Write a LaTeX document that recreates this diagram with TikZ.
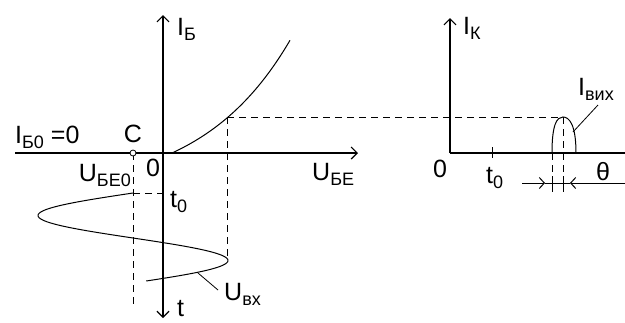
\documentclass[tikz,border=0pt]{standalone}
\usepackage{fontspec}
\setmainfont{Liberation Sans}
\usetikzlibrary{arrows.meta}
\newcommand{\lsub}[1]{\raisebox{-0.45ex}{\fontsize{18}{18}\selectfont #1}}

\begin{document}
\begin{tikzpicture}[x=1pt,y=-1pt,
    font=\fontsize{25}{25}\selectfont,
    axis/.style={line width=1.2pt,-{Straight Barb[length=6pt,width=12pt]}},
    guide/.style={line width=1pt,dash pattern=on 7pt off 5pt},
    curve/.style={line width=1pt},
    dimarrow/.style={line width=1pt,-{Straight Barb[length=5pt,width=11pt]}}]
    \useasboundingbox (0,0) rectangle (625,322);

    % Input axes
    \coordinate (O1) at (163,153);
    \coordinate (ib) at (163,15);
    \coordinate (tt) at (163,318);
    \coordinate (ube) at (358,153);
    \coordinate (west) at (15,153);
    \draw[axis] (O1) -- (ib);
    \draw[axis] (O1) -- (tt);
    \draw[axis] (west) -- (ube);

    % Input characteristic
    \draw[curve] plot[domain=172:290,samples=60,smooth] (\x,{153-41.6*(exp((\x-172)/90)-1)});

    % Input voltage
    \coordinate (C) at (133,153);
    \draw[curve] plot[domain=193:281,samples=90,smooth] ({133-95*sin(4*(\x-193))},\x);
    \draw[guide] (C) -- (133,305);
    \draw[guide] (133,193) -- (163,193);
    \draw[guide] (227,117) -- (227,257);
    \draw[line width=0.8pt,fill=white] (C) circle (3);

    % Output axes
    \coordinate (O2) at (450,153);
    \coordinate (ik) at (450,18);
    \coordinate (east) at (625,153);
    \draw[axis] (O2) -- (ik);
    \draw[line width=1.2pt] (O2) -- (east);
    \draw[line width=1pt] (492,147) -- (492,158);

    % Output pulse
    \coordinate (pk) at (563,117);
    \draw[guide] (227,117) -- (pk);
    \draw[curve] (552,153) .. controls (552,124) and (557,117) .. (pk)
        .. controls (569,117) and (576,124) .. (576,153);
    \draw[guide] (552,153) -- (552,192);
    \draw[guide] (pk) -- (563,192);
    \draw[line width=1pt] (552,176) -- (552,191) (563,176) -- (563,191);

    % Angle of flow
    \coordinate (d1) at (522,183);
    \coordinate (d2) at (625,183);
    \draw[dimarrow] (d1) -- (545,183);
    \draw[dimarrow] (d2) -- (570,183);
    \draw[line width=1pt] (545,183) -- (570,183);

    % Labels
    \node[anchor=base west,inner sep=0] (lib) at (177,35) {I\lsub{Б}};
    \node[anchor=base west,inner sep=0] (lib0) at (15,143) {I\lsub{Б0} =0};
    \node[anchor=base,inner sep=0] (lc) at (133,142) {C};
    \node[anchor=base,inner sep=0] (lo1) at (153,176) {0};
    \node[anchor=base east,inner sep=0] (lube0) at (131,181) {U\lsub{БЕ0}};
    \node[anchor=base west,inner sep=0] (lt0) at (170,207) {t\lsub{0}};
    \node[anchor=base west,inner sep=0] (lube) at (312,180) {U\lsub{БЕ}};
    \node[anchor=base west,inner sep=0] (lt) at (177,316) {t};
    \node[anchor=base west,inner sep=0] (luvx) at (224,300) {U\lsub{вх}};
    \draw[line width=0.8pt] (198,273) -- (218,290);

    \node[anchor=base west,inner sep=0] (lik) at (463,34) {I\lsub{К}};
    \node[anchor=base,inner sep=0] (lo2) at (440,177) {0};
    \node[anchor=base west,inner sep=0] (lt02) at (486,183) {t\lsub{0}};
    \node[anchor=base west,inner sep=0] (livih) at (578,95) {I\lsub{вих}};
    \draw[line width=0.8pt] (598,105) -- (573,132);
    \node[inner sep=0] (lth) at (603,172) {θ};
\end{tikzpicture}
\end{document}
